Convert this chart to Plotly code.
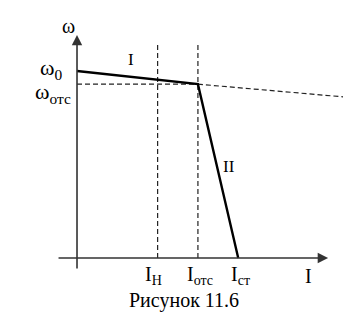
import plotly.graph_objects as go

# data (arbitrary units)
I_labels = ["I<sub>Н</sub>", "I<sub>отс</sub>", "I<sub>ст</sub>", "I"]
I_nom = 2.0
I_ots = 3.0
I_st = 4.0
w0 = 1.0
w_ots = 0.93
I_ext_end = 6.6
w_ext_end = 0.862

# characteristic
char_I = [0.0, I_ots, I_st]
char_w = [w0, w_ots, 0.0]

FONT = "Liberation Serif, Times New Roman, DejaVu Serif, serif"
DASH = dict(color="#222", width=1.2, dash="5px,3px")
fig = go.Figure()

# dashed extension of first segment
fig.add_trace(go.Scatter(x=[I_ots, I_ext_end], y=[w_ots, w_ext_end], mode="lines",
                         line=DASH, hoverinfo="skip"))
# dashed horizontal ω_отс
fig.add_trace(go.Scatter(x=[0, I_ots], y=[w_ots, w_ots], mode="lines",
                         line=DASH, hoverinfo="skip"))
# dashed verticals
for xv in [I_nom, I_ots]:
    fig.add_trace(go.Scatter(x=[xv, xv], y=[0, 1.144], mode="lines",
                             line=DASH, hoverinfo="skip"))
# main characteristic
fig.add_trace(go.Scatter(x=char_I, y=char_w, mode="lines",
                         line=dict(color="black", width=2.4), hoverinfo="skip"))

# axes with arrows
fig.add_annotation(x=6.23, y=0, ax=-0.496, ay=0, xref="x", yref="y", axref="x", ayref="y",
                   showarrow=True, arrowhead=2, arrowsize=1.3, arrowwidth=1.6, arrowcolor="#333", text="")
fig.add_annotation(x=0, y=1.193, ax=0, ay=-0.064, xref="x", yref="y", axref="x", ayref="y",
                   showarrow=True, arrowhead=2, arrowsize=1.3, arrowwidth=1.6, arrowcolor="#333", text="")

def lab(x, y, t, size=20, xanchor="center"):
    fig.add_annotation(x=x, y=y, xref="x", yref="y", text=t, showarrow=False,
                       font=dict(family=FONT, size=size, color="black"), xanchor=xanchor, yanchor="middle")

lab(-0.22, 1.24, "ω", 20)
lab(-0.65, 1.01, "ω<sub>0</sub>", 22)
lab(-0.60, 0.88, "ω<sub>отс</sub>", 22)
lab(1.33, 1.06, "I", 17)
lab(3.78, 0.49, "II", 17)

xs = [I_nom, I_ots, I_st, 5.7]
shifts = [-0.1, 0.05, 0.05, 0.05]
for xv, s, t in zip(xs, shifts, I_labels):
    lab(xv + s, -0.095, t, 20)

lab(2.66, -0.225, "Рисунок 11.6", 20)

fig.update_layout(width=343, height=316, margin=dict(l=0, r=0, t=0, b=0),
                  plot_bgcolor="white", paper_bgcolor="white", showlegend=False,
                  font=dict(family=FONT),
                  xaxis=dict(range=[-1.911, 6.60], visible=False, fixedrange=True),
                  yaxis=dict(range=[-0.310, 1.380], visible=False, fixedrange=True))
fig.write_html("out.html", config={"displayModeBar": False})
